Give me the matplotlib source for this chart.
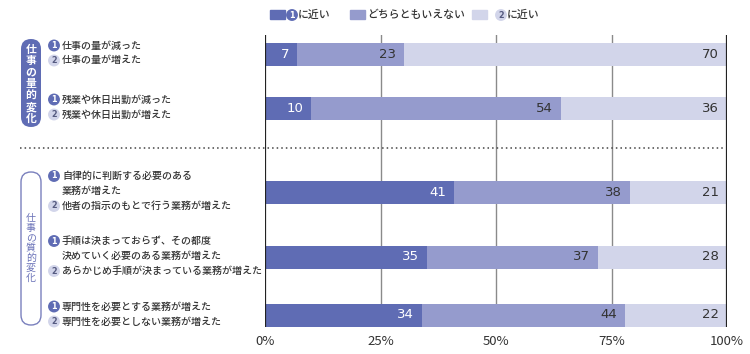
import matplotlib
matplotlib.use("Agg")
import matplotlib.pyplot as plt
from matplotlib.patches import FancyBboxPatch, Rectangle

plt.rcParams['font.family'] = ['Noto Sans CJK JP', 'DejaVu Sans']

# --- data ---
series_names = ["に近い", "どちらともいえない", "に近い"]
near1 = [7, 10, 41, 35, 34]
neutral = [23, 54, 38, 37, 44]
near2 = [70, 36, 21, 28, 22]
labels1 = ["仕事の量が減った", "残業や休日出勤が減った",
           "自律的に判断する必要のある\n業務が増えた",
           "手順は決まっておらず、その都度\n決めていく必要のある業務が増えた",
           "専門性を必要とする業務が増えた"]
labels2 = ["仕事の量が増えた", "残業や休日出勤が増えた",
           "他者の指示のもとで行う業務が増えた",
           "あらかじめ手順が決まっている業務が増えた",
           "専門性を必要としない業務が増えた"]
groups = ["仕事の量的変化", "仕事の質的変化"]
xticks = [0, 25, 50, 75, 100]

C1 = "#5f6cb4"
C2 = "#959bcd"
C3 = "#d2d5ea"
TXT = "#333333"

W, H = 750, 354
fig = plt.figure(figsize=(W / 100, H / 100), dpi=100)

# bar area in pixel layout
ax_l, ax_r, ax_t, ax_b = 265, 727, 35, 327
ax = fig.add_axes([ax_l / W, 1 - ax_b / H, (ax_r - ax_l) / W, (ax_b - ax_t) / H])
ypos = [54, 108, 192, 257, 315]
ax.set_ylim(ax_b, ax_t)
ax.set_xlim(0, 100)

bh = 23
left = [0] * 5
for vals, col, tcol in [(near1, C1, "white"), (neutral, C2, TXT), (near2, C3, TXT)]:
    ax.barh(ypos, vals, left=left, height=bh, color=col, zorder=3)
    for y, l, v in zip(ypos, left, vals):
        ax.annotate(str(v), (l + v, y), xytext=(-8, 0), textcoords="offset pixels",
                    ha="right", va="center", fontsize=9.5, color=tcol, zorder=4,
                    family=['DejaVu Sans'])
    left = [a + b for a, b in zip(left, vals)]

for x in xticks[1:-1]:
    ax.axvline(x, color="#8a8a8a", lw=1, zorder=1)
for x in (0, 100):
    ax.axvline(x, color="#222222", lw=1.6, zorder=5)
for s in ax.spines.values():
    s.set_visible(False)
ax.set_yticks([])
ax.set_xticks(xticks)
ax.set_xticklabels([f"{x}%" for x in xticks], fontsize=9.5, color=TXT)
ax.tick_params(axis="x", length=0, pad=6)

# overlay in pixel coordinates for annotations
ov = fig.add_axes([0, 0, 1, 1], zorder=10)
ov.set_xlim(0, W)
ov.set_ylim(H, 0)
ov.axis("off")


def circled(x, y, n, fill, fcol):
    ov.text(x, y, str(n), ha="center", va="center", fontsize=5.8, color=fcol,
            fontweight="bold", family=['DejaVu Sans'],
            bbox=dict(boxstyle="circle,pad=0.18", fc=fill, ec="none"))


# legend
lx = [270, 350, 472]
lcols = [C1, C2, C3]
for i, (x, c) in enumerate(zip(lx, lcols)):
    ov.add_patch(Rectangle((x, 10), 15, 9, color=c))
    tx = x + 17
    if i == 0:
        circled(tx + 5, 15, 1, C1, "white")
        tx += 11
    elif i == 2:
        circled(tx + 12, 15, 2, C3, "#555a80")
        tx += 18
    ov.text(tx, 15, series_names[i], ha="left", va="center", fontsize=7.8,
            color=TXT, fontweight="medium")

# category labels
for y, a, b in zip(ypos, labels1, labels2):
    la = a.split("\n")
    lines = [(1, la[0])] + [(0, t) for t in la[1:]] + [(2, b)]
    n = len(lines)
    step = 15
    y0 = y - step * (n - 1) / 2 - 1
    for k, (num, t) in enumerate(lines):
        yy = y0 + k * step
        if num == 1:
            circled(54, yy, 1, C1, "white")
        elif num == 2:
            circled(54, yy, 2, C3, "#555a80")
        ov.text(62, yy, t, ha="left", va="center", fontsize=7.2, color=TXT,
                fontweight="medium")

# group pills (vertical text, one character per row)
ov.add_patch(FancyBboxPatch((21, 39), 20, 88, boxstyle="round,pad=0,rounding_size=10",
                            fc=C1, ec="none"))
for k, ch in enumerate(groups[0]):
    ov.text(31, 50 + k * 11.4, ch, ha="center", va="center", fontsize=7.8,
            color="white", fontweight="bold")
ov.add_patch(FancyBboxPatch((21, 172), 20, 153, boxstyle="round,pad=0,rounding_size=10",
                            fc="white", ec="#7a80bd", lw=1))
for k, ch in enumerate(groups[1]):
    ov.text(31, 218 + k * 10, ch, ha="center", va="center", fontsize=7.2,
            color="#6a72b8")

# separator
ov.plot([20, 725], [148, 148], color="#444444", lw=1.1, ls=(0, (1, 2)))

fig.savefig("out.png", dpi=100, facecolor="white")
